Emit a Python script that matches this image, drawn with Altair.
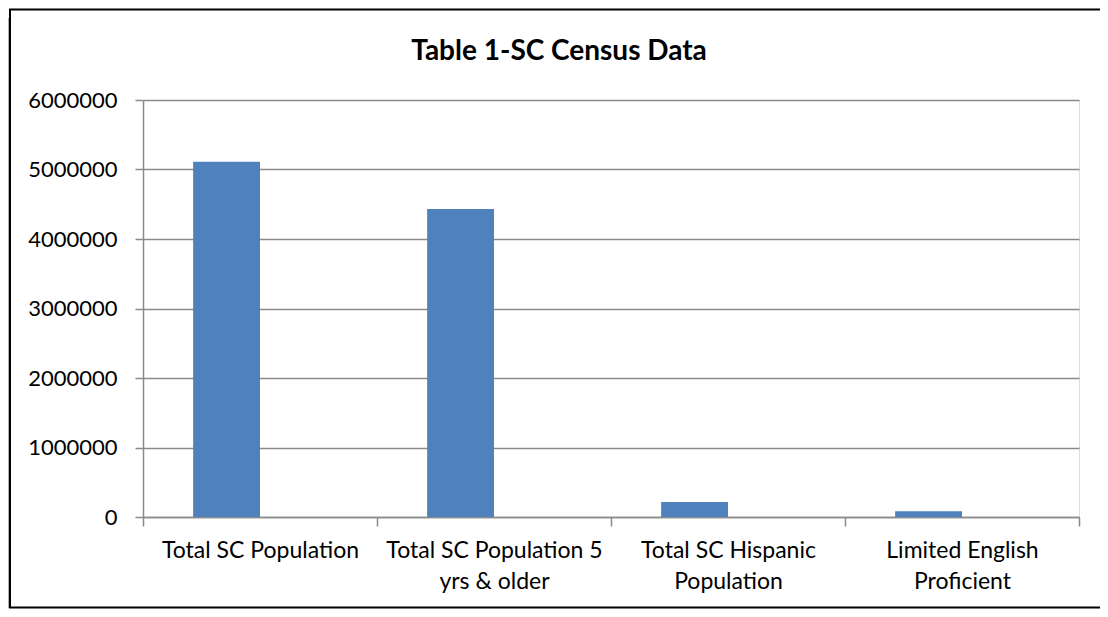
import altair as alt
import pandas as pd

categories = [
    "Total SC Population",
    "Total SC Population 5 yrs & older",
    "Total SC Hispanic Population",
    "Limited English Proficient",
]
values = [5110000, 4430000, 216000, 82000]
label_lines = [
    ["Total SC Population"],
    ["Total SC Population 5", "yrs & older"],
    ["Total SC Hispanic", "Population"],
    ["Limited English", "Proficient"],
]
y_ticks = [0, 1000000, 2000000, 3000000, 4000000, 5000000, 6000000]
series_slots = ["Series1", "Series2"]  # Excel clustered layout, second slot empty

df = pd.DataFrame({"category": categories, "value": values, "series": series_slots[0]})

# build label expression (multi-line labels)
expr = "datum.label"
for cat, lines in reversed(list(zip(categories, label_lines))):
    arr = "[" + ",".join("'" + l + "'" for l in lines) + "]"
    expr = f"datum.label == '{cat}' ? {arr} : ({expr})"

FONT = "Lato"
GRID = "#8a8a8a"

bars = alt.Chart(df).mark_bar(color="#4F81BD").encode(
    x=alt.X(
        "category:N",
        sort=categories,
        scale=alt.Scale(paddingInner=0, paddingOuter=0),
        axis=alt.Axis(
            title=None,
            labelAngle=0,
            labelExpr=expr,
            labelFont=FONT,
            labelFontSize=23,
            labelColor="black",
            labelLineHeight=31,
            labelPadding=13,
            labelBaseline="top",
            tickBand="extent",
            tickSize=9,
            tickColor=GRID,
            tickWidth=1.5,
            domainColor=GRID,
            domainWidth=1.5,
            grid=False,
            labelLimit=400,
        ),
    ),
    xOffset=alt.XOffset(
        "series:N",
        scale=alt.Scale(domain=series_slots, paddingInner=0, paddingOuter=0.75),
    ),
    y=alt.Y(
        "value:Q",
        scale=alt.Scale(domain=[0, 6000000], nice=False),
        axis=alt.Axis(
            title=None,
            values=y_ticks,
            format="d",
            labelFont=FONT,
            labelFontSize=22,
            labelColor="black",
            labelPadding=18,
            tickSize=8,
            tickColor=GRID,
            tickWidth=1.5,
            domainColor=GRID,
            domainWidth=1.5,
            gridColor=GRID,
            gridWidth=1.5,
        ),
    ),
)

deco = pd.DataFrame({"k": [0]})
shadow = alt.Chart(deco).mark_rule(color="#b0b0b0", strokeWidth=1.5).encode(
    x=alt.value(-134.5), y=alt.value(-82), y2=alt.value(508)
)
frame = alt.Chart(deco).mark_rect(fill=None, fillOpacity=0, stroke="black", strokeWidth=2).encode(
    x=alt.value(-133), x2=alt.value(3000), y=alt.value(-90.5), y2=alt.value(507.5)
)

chart = alt.layer(shadow, frame, bars).properties(
    width=936,
    height=417,
    title=alt.TitleParams(
        "Table 1-SC Census Data",
        font=FONT,
        fontSize=28,
        fontWeight="bold",
        color="black",
        anchor="middle",
        frame="group",
        baseline="alphabetic",
        offset=-79.5,
        dx=-52,
    ),
    autosize=alt.AutoSizeParams(type="none"),
    padding={"left": 135, "top": 92, "right": 21, "bottom": 92},
).configure_view(stroke=None).configure(background="white")

chart.save("out.html", embed_options={"renderer": "svg", "actions": False})
